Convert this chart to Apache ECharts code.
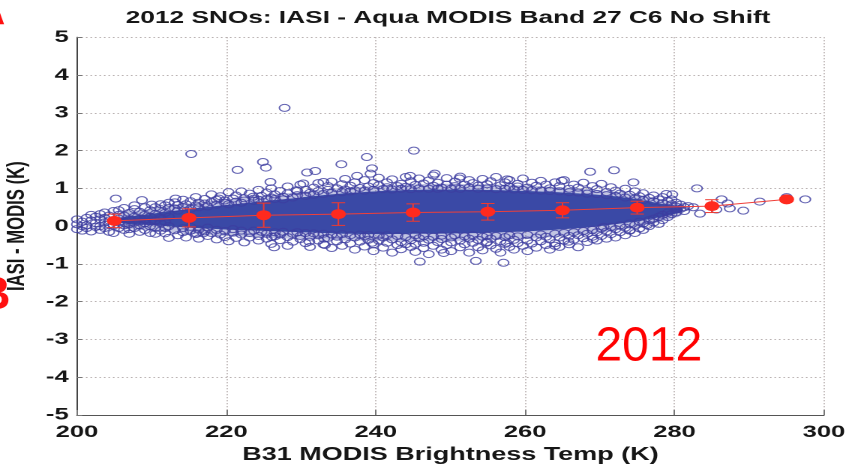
<!DOCTYPE html>
<html>
<head>
<meta charset="utf-8">
<script src="https://cdn.jsdelivr.net/npm/echarts@6/dist/echarts.min.js"></script>
<style>
  html, body { margin: 0; padding: 0; background: #fff; overflow: hidden; }
  /* the figure is drawn narrow and widened horizontally, like the exported plot */
  #chart { position: absolute; left: 0; top: 0; width: 572px; height: 466px;
           transform: scaleX(1.5); transform-origin: 0 0; }
</style>
</head>
<body>
<div id="chart"></div>
<script>
// Axis ticks
const xTicks = [200, 220, 240, 260, 280, 300];
const yTicks = [-5, -4, -3, -2, -1, 0, 1, 2, 3, 4, 5];

// SNO matchups grouped by B31 brightness temperature (K): [temp, [IASI - MODIS (K), ...]]
const snoColumns = [
  [200.0, [0.05, -0.08, 0.18]], [200.7, [0.12, -0.12, 0.0]], [201.3, [0.22, 0.02, -0.05]],
  [201.9, [0.15, 0.3, -0.14]], [202.5, [0.08, 0.25, -0.02]], [203.1, [0.18, 0.0, 0.32, -0.1]],
  [203.7, [0.1, 0.22, -0.05, 0.36]], [204.3, [0.28, 0.05, -0.15, 0.15]], [204.9, [-0.18, 0.14, 0.4, 0.02]],
  [205.6, [0.2, -0.05, 0.1, 0.42, 0.3]], [206.3, [0.12, 0.28, -0.1, 0.02, 0.48]],
  [207.0, [0.35, 0.18, -0.08, 0.05, -0.2]], [207.7, [0.25, 0.1, 0.45, -0.05, 0.55]],
  [208.4, [0.2, 0.02, 0.38, -0.15, 0.12]], [209.1, [0.3, 0.08, -0.1, 0.5, 0.18]],
  [209.8, [0.25, 0.0, 0.42, -0.18, 0.12]], [210.5, [0.15, 0.32, -0.05, 0.5, -0.2]],
  [211.2, [0.22, 0.45, -0.12, 0.08, 0.58]], [211.8, [-0.19, 0.35, 0.12, 0.55, -0.05]],
  [212.3, [-0.31, 0.0, 0.25, 0.48, 0.62]],
  [213.1, [0.47, 0.63, -0.11]], [213.5, [0.41, -0.24, 0.56]], [214.2, [0.7, -0.05, -0.16, 0.5]],
  [214.6, [0.58, -0.3]], [215.2, [0.46, 0.66, -0.12, -0.02]], [215.9, [0.77, 0.55, -0.21]],
  [216.3, [0.5, -0.09, -0.33, 0.62]], [217.1, [0.6, 0.72, -0.14]], [217.5, [0.52, -0.26, -0.04]],
  [218.0, [0.84, 0.64, -0.18]], [218.7, [0.57, -0.1, -0.35, 0.7]], [219.2, [0.79, -0.22]],
  [219.8, [0.62, 0.68, -0.13, -0.29]], [220.3, [0.58, 0.9, -0.4]], [220.9, [0.73, -0.17, -0.08]],
  [221.3, [0.65, 0.81, -0.31]], [222.0, [0.62, -0.22, -0.12, 0.92]], [222.4, [0.74, 0.68, -0.43]],
  [223.1, [0.86, -0.18, -0.3]], [223.7, [0.67, 0.73, -0.12]], [224.3, [0.96, -0.26, -0.38, 0.7]],
  [224.7, [0.8, -0.15]], [225.4, [0.71, 0.89, -0.33, -0.2]], [226.0, [1.0, 0.76, -0.47]],
  [226.5, [0.72, -0.16, -0.27, 0.84]], [227.2, [0.93, -0.37, -0.22]], [227.6, [0.78, 0.71, -0.15]],
  [228.2, [1.05, 0.87, -0.29, -0.52]], [228.9, [0.76, -0.2, -0.41]], [229.5, [0.93, 0.82, -0.16]],
  [229.9, [1.1, -0.34, -0.26]], [230.6, [0.8, 0.96, -0.45, -0.18]], [231.2, [0.88, -0.28, -0.55]],
  [231.7, [1.02, 0.83, -0.19]], [232.3, [0.93, 1.14, -0.38, -0.24]], [233.0, [0.85, -0.48, -0.2]],
  [233.6, [1.06, 0.96, -0.31]], [234.1, [0.88, -0.22, -0.58, 1.18]], [234.8, [1.0, -0.4, -0.28]],
  [235.5, [0.9, 1.11, -0.21, -0.52]], [235.9, [0.97, -0.35, 1.25]], [236.6, [1.07, 0.92, -0.24, -0.46]],
  [237.2, [0.95, 1.16, -0.62, -0.3]], [237.9, [1.01, -0.22, -0.41]], [238.5, [1.22, 0.94, -0.54, -0.27]],
  [239.0, [1.05, -0.36, -0.23]], [239.7, [0.96, 1.14, -0.48, -0.66]], [240.4, [1.08, 1.28, -0.25, -0.38]],
  [241.0, [0.98, -0.57, -0.3]], [241.5, [1.16, 1.03, -0.44, -0.24]], [242.2, [1.24, 0.97, -0.35, -0.7]],
  [242.9, [1.06, -0.26, -0.5]], [243.4, [1.12, 0.99, -0.42, -0.61]], [244.0, [1.3, 1.04, -0.29]],
  [244.7, [0.98, 1.19, -0.55, -0.37]], [245.3, [1.09, -0.24, -0.47, -0.68]], [245.8, [1.26, 1.0, -0.32]],
  [246.4, [1.13, -0.58, -0.26, -0.44]], [247.1, [0.99, 1.21, -0.36, -0.74]], [247.7, [1.07, 1.34, -0.28, -0.52]],
  [248.3, [1.15, 0.99, -0.42]], [248.8, [1.02, -0.62, -0.25, -0.34]], [249.5, [1.27, 1.1, -0.5]],
  [250.1, [0.99, -0.3, -0.43, -0.66]], [250.6, [1.18, 1.06, -0.24]], [251.3, [1.31, 0.99, -0.38, -0.56]],
  [251.9, [1.1, -0.27, -0.48]], [252.5, [1.02, 1.22, -0.7, -0.33]], [253.0, [1.14, -0.44, -0.24]],
  [253.7, [0.99, 1.07, -0.56, -0.36]], [254.3, [1.25, -0.28, -0.64]], [254.9, [1.11, 1.0, -0.42, -0.25]],
  [255.4, [1.19, -0.51, -0.33]], [256.1, [0.98, 1.3, -0.26, -0.6]], [256.7, [1.08, -0.4, -0.7]],
  [257.3, [1.16, 0.99, -0.29, -0.47]], [257.9, [1.04, 1.22, -0.55, -0.24]], [258.5, [0.97, -0.36, -0.62]],
  [259.0, [1.12, 1.05, -0.27, -0.45]], [259.7, [1.26, 0.96, -0.52]], [260.3, [1.02, -0.23, -0.38, -0.66]],
  [260.9, [1.15, 0.95, -0.46]], [261.5, [1.07, -0.3, -0.57]], [262.1, [0.94, 1.2, -0.22, -0.4]],
  [262.8, [1.1, -0.5, -0.28]], [263.3, [1.0, 0.93, -0.35, -0.62]], [264.0, [1.16, -0.2, -0.45]],
  [264.6, [0.92, 1.06, -0.3, -0.55]], [265.2, [1.22, -0.38, -0.18]], [265.9, [0.99, 0.9, -0.48, -0.26]],
  [266.5, [1.1, -0.16, -0.36]], [267.1, [0.89, 1.02, -0.56, -0.24]], [267.8, [1.15, -0.32, -0.13]],
  [268.3, [0.94, 0.86, -0.42, -0.2]], [269.0, [1.06, -0.1, -0.28]], [269.6, [0.85, 0.98, -0.38, -0.16]],
  [270.2, [1.12, -0.06, -0.26]], [270.9, [0.9, 0.82, -0.33, -0.14]], [271.5, [1.03, -0.02, -0.21]],
  [272.1, [0.8, 0.94, -0.3, -0.08]], [272.7, [0.86, 0.02, -0.16]], [273.4, [0.99, 0.76, -0.24, -0.04]],
  [274.0, [0.83, 0.07, -0.12]], [274.7, [0.73, 0.92, -0.18, 0.03]], [275.3, [0.79, 0.12, -0.06]],
  [275.8, [0.69, 0.87, 0.07, -0.1]], [276.6, [0.75, 0.16, 0.0]], [277.2, [0.66, 0.81, 0.1, 0.2]],
  [277.9, [0.71, 0.25, 0.06]], [278.4, [0.61, 0.77, 0.16, 0.3]], [279.1, [0.66, 0.24, 0.36]],
  [279.6, [0.58, 0.71, 0.32]], [280.2, [0.52, 0.62, 0.36, 0.44]], [280.8, [0.57, 0.46]], [281.3, [0.5, 0.4]]
];

// Isolated matchups away from the main cloud: [temp, difference]
const snoOutliers = [
  [205.2, 0.73], [208.7, 0.69], [210.0, 0.57], [213.2, 0.73], [215.3, 1.91], [216.0, -0.19], [216.9, -0.19],
  [219.0, 0.73], [221.5, 1.49], [223.6, 0.78], [224.9, 1.7], [225.3, 1.55], [225.9, 1.17], [226.1, -0.28],
  [226.4, -0.56], [227.8, 3.13], [229.4, 0.95], [230.3, 1.13], [230.8, 1.42], [231.1, -0.41], [231.9, 1.46],
  [233.0, 1.17], [233.1, -0.33], [233.2, -0.5], [235.4, 1.64], [237.5, 1.33], [238.8, 1.83], [239.3, 1.39],
  [239.5, 1.53], [239.5, -0.44], [244.0, -0.48], [244.6, 1.33], [245.1, 2.0], [245.9, -0.94], [247.9, 1.39],
  [249.1, -0.71], [251.2, 1.26], [253.4, -0.92], [254.8, -0.44], [257.1, -0.97], [257.5, -0.44], [257.6, 1.24],
  [264.0, -0.52], [264.9, 1.2], [265.8, -0.41], [268.7, 1.44], [269.1, -0.34], [270.5, -0.02], [271.9, 1.48],
  [274.0, -0.11], [274.5, 1.16], [276.3, 0.03], [278.9, 0.85], [279.7, 0.84], [281.8, 0.53], [282.5, 0.5],
  [283.0, 1.0], [283.4, 0.33], [285.6, 0.44], [286.3, 0.71], [287.1, 0.6], [287.4, 0.47], [289.2, 0.41],
  [291.4, 0.65], [295.0, 0.77], [297.5, 0.71]
];

// Where the matchups pile up so densely that the markers merge into a solid band,
// and the looser zone around it where the rings still crowd together
const coreTemps = [206, 209, 212, 215, 218, 221, 224, 227, 230, 233, 236, 239, 242, 245, 248, 251, 254, 257, 260, 263, 266, 269, 272, 275, 277, 279, 281];
const coreLow   = [0.08, 0.04, 0.0, -0.04, -0.07, -0.1, -0.12, -0.14, -0.16, -0.18, -0.2, -0.21, -0.21, -0.2, -0.2, -0.19, -0.18, -0.16, -0.14, -0.11, -0.07, -0.02, 0.05, 0.13, 0.2, 0.28, 0.38];
const coreHigh  = [0.22, 0.3, 0.38, 0.45, 0.52, 0.58, 0.64, 0.7, 0.76, 0.82, 0.87, 0.91, 0.94, 0.96, 0.97, 0.97, 0.96, 0.95, 0.93, 0.91, 0.88, 0.84, 0.79, 0.71, 0.64, 0.57, 0.5];
const haloLow   = [-0.05, -0.1, -0.15, -0.2, -0.24, -0.27, -0.3, -0.32, -0.34, -0.36, -0.38, -0.39, -0.4, -0.4, -0.4, -0.39, -0.38, -0.36, -0.34, -0.3, -0.25, -0.19, -0.12, -0.03, 0.06, 0.16, 0.3];
const haloHigh  = [0.35, 0.44, 0.52, 0.6, 0.67, 0.73, 0.79, 0.85, 0.91, 0.97, 1.02, 1.06, 1.09, 1.11, 1.12, 1.12, 1.11, 1.1, 1.08, 1.05, 1.02, 0.97, 0.92, 0.84, 0.76, 0.67, 0.56];

// 10 K bin statistics: bin centre, mean difference, standard deviation
const binTemps = [205, 215, 225, 235, 245, 255, 265, 275, 285, 295];
const binMeans = [0.14, 0.22, 0.29, 0.32, 0.36, 0.38, 0.42, 0.49, 0.53, 0.71];
const binStds  = [0.18, 0.24, 0.32, 0.30, 0.23, 0.22, 0.20, 0.17, 0.17, 0];

const snoPoints = [];
snoColumns.forEach(([t, diffs]) => diffs.forEach(d => snoPoints.push([t, d])));
snoOutliers.forEach(p => snoPoints.push(p));

const FONT = 'Liberation Sans, Arial, Helvetica, sans-serif';
const STRETCH = 1.5;
const ringColor = '#3d3da0';
const coreColor = '#3a49a6';
const haloColor = 'rgba(64, 74, 168, 0.32)';
const red = '#ff2a1e';

// Filled band between a lower and an upper envelope, mapped through the axes
function bandSeries(temps, low, high, fill, z) {
  return {
    type: 'custom', z: z, silent: true,
    data: temps.map((t, i) => [t, low[i], high[i]]),
    renderItem: (params, api) => {
      if (params.dataIndex !== 0) return null;
      const pts = [];
      temps.forEach((t, i) => pts.push(api.coord([t, high[i]])));
      for (let i = temps.length - 1; i >= 0; i--) pts.push(api.coord([temps[i], low[i]]));
      return { type: 'polygon', shape: { points: pts, smooth: 0.25 }, style: { fill: fill } };
    }
  };
}

const chart = echarts.init(document.getElementById('chart'), null, { renderer: 'canvas', devicePixelRatio: 2 });

chart.setOption({
  animation: false,
  backgroundColor: '#fff',
  title: {
    text: '2012 SNOs: IASI - Aqua MODIS Band 27 C6 No Shift',
    left: 298.7, top: 9, textAlign: 'center', padding: 0,
    textStyle: { fontFamily: FONT, fontSize: 17.5, fontWeight: 'bold', color: '#161616' }
  },
  grid: { left: 51.3, right: 22.7, top: 37.3, bottom: 51, outerBoundsMode: 'none', containLabel: false },
  xAxis: {
    type: 'value', min: 200, max: 300, interval: 20,
    name: 'B31 MODIS Brightness Temp (K)', nameLocation: 'middle', nameGap: 28,
    nameTextStyle: { fontFamily: FONT, fontSize: 18, fontWeight: 'bold', color: '#161616' },
    axisLine: { show: true, onZero: false, lineStyle: { color: '#555', width: 1 } },
    axisTick: { show: true, inside: true, length: 5, lineStyle: { color: '#777' } },
    axisLabel: { fontFamily: FONT, fontSize: 17, fontWeight: 'bold', color: '#161616', margin: 9,
                 formatter: v => String(v) },
    splitLine: { show: true, lineStyle: { type: [1, 2], color: '#b3aaaa', width: 1 } }
  },
  yAxis: {
    type: 'value', min: -5, max: 5, interval: 1,
    name: 'IASI - MODIS (K)', nameLocation: 'middle', nameGap: 30, nameRotate: 90,
    nameTextStyle: { fontFamily: FONT, fontSize: 16.7, fontWeight: 'bold', color: '#161616' },
    axisLine: { show: true, onZero: false, lineStyle: { color: '#444', width: 1 } },
    axisTick: { show: true, inside: true, length: 3.5, lineStyle: { color: '#777' } },
    axisLabel: { fontFamily: FONT, fontSize: 17, fontWeight: 'bold', color: '#161616', margin: 5.5 },
    splitLine: { show: true, lineStyle: { type: [1, 2], color: '#b3aaaa', width: 1 } }
  },
  graphic: [
    { type: 'text', x: 397, y: 347.5, scaleX: 1 / STRETCH, z: 100,
      style: { text: '2012', font: '48px ' + FONT, fill: '#ff0000', textVerticalAlign: 'middle' } },
    { type: 'text', x: 5.3 / STRETCH, y: 11.5, scaleX: 1 / STRETCH, z: 100,
      style: { text: 'A', font: 'bold 46px ' + FONT, fill: '#ff1010', textAlign: 'right', textVerticalAlign: 'middle' } },
    { type: 'text', x: 10.5 / STRETCH, y: 296.5, scaleX: 1 / STRETCH, z: 100,
      style: { text: 'B', font: 'bold 46px ' + FONT, fill: '#ff1010', textAlign: 'right', textVerticalAlign: 'middle' } }
  ],
  series: [
    bandSeries(coreTemps, haloLow, haloHigh, haloColor, 1),
    bandSeries(coreTemps, coreLow, coreHigh, coreColor, 1),
    {
      type: 'scatter', z: 2, silent: true,
      data: snoPoints,
      symbol: 'circle', symbolSize: 7,
      itemStyle: { color: 'rgba(0,0,0,0)', borderColor: ringColor, borderWidth: 1 }
    },
    {
      // standard deviation bars per bin
      type: 'custom', z: 3, silent: true,
      data: binTemps.map((t, i) => [t, binMeans[i], binStds[i]]),
      renderItem: (params, api) => {
        const t = api.value(0), m = api.value(1), s = api.value(2);
        if (!s) return null;
        const hi = api.coord([t, m + s]);
        const lo = api.coord([t, m - s]);
        const hw = 4.5;
        const st = { stroke: '#ee3a30', lineWidth: 1 };
        return { type: 'group', children: [
          { type: 'line', shape: { x1: hi[0], y1: hi[1], x2: lo[0], y2: lo[1] }, style: st },
          { type: 'line', shape: { x1: hi[0] - hw, y1: hi[1], x2: hi[0] + hw, y2: hi[1] }, style: st },
          { type: 'line', shape: { x1: lo[0] - hw, y1: lo[1], x2: lo[0] + hw, y2: lo[1] }, style: st }
        ] };
      }
    },
    {
      type: 'line', z: 4, silent: true,
      data: binTemps.map((t, i) => [t, binMeans[i]]),
      symbol: 'circle', symbolSize: 10, showSymbol: true,
      itemStyle: { color: red },
      lineStyle: { color: '#f0403a', width: 1 }
    }
  ]
});
</script>
</body>
</html>
